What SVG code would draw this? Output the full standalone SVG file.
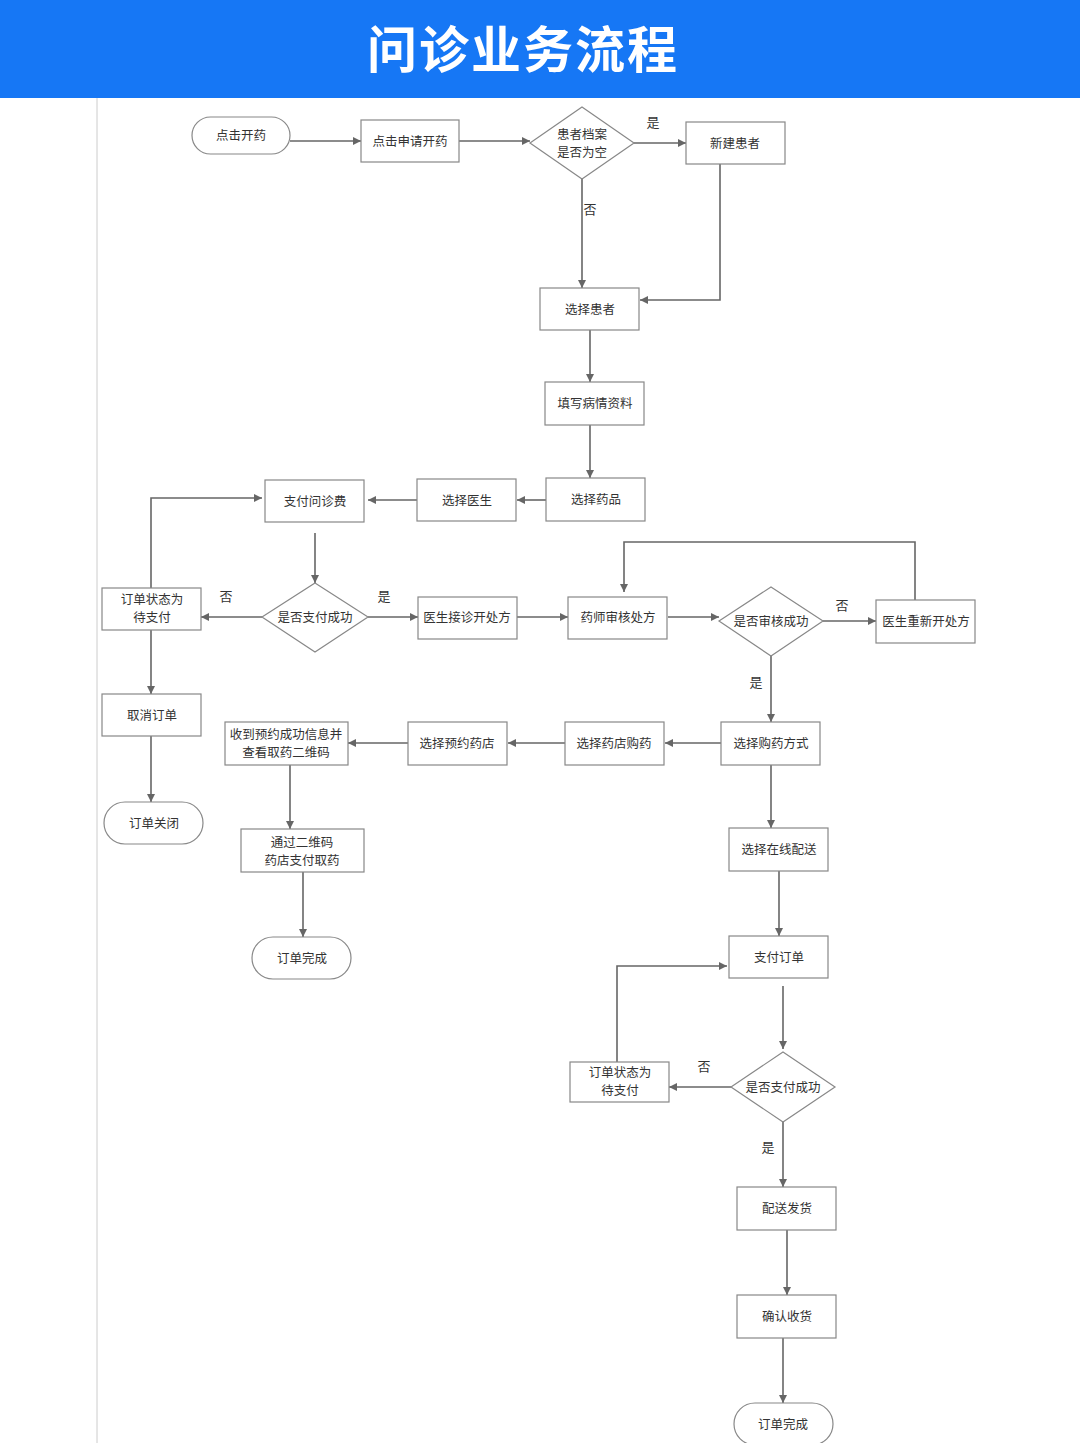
<svg xmlns="http://www.w3.org/2000/svg" width="1080" height="1443" viewBox="0 0 1080 1443">
<defs><marker id="a" viewBox="0 0 10 10" refX="10" refY="5" markerWidth="8" markerHeight="8" markerUnits="userSpaceOnUse" orient="auto"><path d="M0,0L10,5L0,10z" fill="#666"/></marker></defs>
<style>
.n{fill:#fff;stroke:#888;stroke-width:1.2}
text{font-family:"Noto Sans CJK SC",sans-serif;font-size:12.5px;fill:#333;text-anchor:middle}
.c path{fill:none;stroke:#666;stroke-width:1.6;marker-end:url(#a)}
.l{font-size:13px}
</style>
<rect width="1080" height="1443" fill="#fff"/>
<rect width="1080" height="98" fill="#1677f5"/>
<text x="523" y="68" style="font-size:50px;font-weight:bold;fill:#fff;letter-spacing:2px">问诊业务流程</text>
<line x1="97" y1="98" x2="97" y2="1443" stroke="#ccc"/>
<g class="c">
<path d="M290,141H361"/><path d="M459,141H530"/><path d="M634,143H686"/><path d="M582,179V288"/>
<path d="M720,164V300H640"/><path d="M590,330V382"/><path d="M590,425V478"/><path d="M546,500H517"/>
<path d="M417,500H368"/><path d="M315,533V583"/><path d="M262,617H201"/><path d="M368,617H418"/>
<path d="M151,588V498H262"/><path d="M151,630V694"/><path d="M151,736V802"/><path d="M517,617H568"/>
<path d="M668,617H719"/><path d="M823,621H876"/><path d="M915,600V542H624V592"/><path d="M771,656V722"/>
<path d="M721,743H665"/><path d="M565,743H508"/><path d="M408,743H348"/><path d="M290,765V829"/>
<path d="M303,872V937"/><path d="M771,765V828"/><path d="M779,871V936"/><path d="M783,986V1049"/>
<path d="M731,1087H669"/><path d="M617,1062V966H727"/><path d="M783,1122V1187"/><path d="M787,1230V1295"/><path d="M783,1338V1403"/>
</g>
<g class="l">
<text class="l" x="653" y="127">是</text><text class="l" x="590" y="214">否</text><text class="l" x="226" y="601">否</text>
<text class="l" x="384" y="601">是</text><text class="l" x="842" y="610">否</text><text class="l" x="756" y="687">是</text>
<text class="l" x="704" y="1071">否</text><text class="l" x="768" y="1152">是</text>
</g>
<g id="n1"><rect class="n" x="192" y="117" width="98" height="37" rx="18.5"/><text x="241" y="140">点击开药</text></g>
<g id="n2"><rect class="n" x="361" y="120" width="98" height="42"/><text x="410" y="146">点击申请开药</text></g>
<g id="n3"><path class="n" d="M582,107L634,143L582,179L530,143z"/><text x="582" y="139">患者档案</text><text x="582" y="157">是否为空</text></g>
<g id="n4"><rect class="n" x="686" y="122" width="99" height="42"/><text x="735" y="148">新建患者</text></g>
<g id="n5"><rect class="n" x="540" y="288" width="99" height="42"/><text x="590" y="314">选择患者</text></g>
<g id="n6"><rect class="n" x="545" y="382" width="99" height="43"/><text x="595" y="408">填写病情资料</text></g>
<g id="n7"><rect class="n" x="546" y="478" width="99" height="43"/><text x="596" y="504">选择药品</text></g>
<g id="n8"><rect class="n" x="417" y="479" width="99" height="42"/><text x="467" y="505">选择医生</text></g>
<g id="n9"><rect class="n" x="265" y="480" width="99" height="42"/><text x="315" y="506">支付问诊费</text></g>
<g id="n10"><path class="n" d="M315,583L368,617L315,652L262,617z"/><text x="315" y="622">是否支付成功</text></g>
<g id="n11"><rect class="n" x="102" y="588" width="99" height="42"/><text x="152" y="604">订单状态为</text><text x="152" y="622">待支付</text></g>
<g id="n12"><rect class="n" x="102" y="694" width="99" height="42"/><text x="152" y="720">取消订单</text></g>
<g id="n13"><rect class="n" x="104" y="802" width="99" height="42" rx="21"/><text x="154" y="828">订单关闭</text></g>
<g id="n14"><rect class="n" x="418" y="597" width="99" height="42"/><text x="467" y="622">医生接诊开处方</text></g>
<g id="n15"><rect class="n" x="568" y="597" width="99" height="42"/><text x="618" y="622">药师审核处方</text></g>
<g id="n16"><path class="n" d="M771,587L823,621L771,656L719,621z"/><text x="771" y="626">是否审核成功</text></g>
<g id="n17"><rect class="n" x="876" y="600" width="99" height="43"/><text x="926" y="626">医生重新开处方</text></g>
<g id="n18"><rect class="n" x="721" y="722" width="99" height="43"/><text x="771" y="748">选择购药方式</text></g>
<g id="n19"><rect class="n" x="565" y="722" width="99" height="43"/><text x="614" y="748">选择药店购药</text></g>
<g id="n20"><rect class="n" x="408" y="722" width="99" height="43"/><text x="457" y="748">选择预约药店</text></g>
<g id="n21"><rect class="n" x="225" y="722" width="123" height="43"/><text x="286" y="739">收到预约成功信息并</text><text x="286" y="757">查看取药二维码</text></g>
<g id="n22"><rect class="n" x="241" y="829" width="123" height="43"/><text x="302" y="847">通过二维码</text><text x="302" y="865">药店支付取药</text></g>
<g id="n23"><rect class="n" x="252" y="937" width="99" height="42" rx="21"/><text x="302" y="963">订单完成</text></g>
<g id="n24"><rect class="n" x="729" y="828" width="99" height="43"/><text x="779" y="854">选择在线配送</text></g>
<g id="n25"><rect class="n" x="729" y="936" width="99" height="42"/><text x="779" y="962">支付订单</text></g>
<g id="n26"><path class="n" d="M783,1052L835,1087L783,1122L731,1087z"/><text x="783" y="1092">是否支付成功</text></g>
<g id="n27"><rect class="n" x="570" y="1062" width="99" height="40"/><text x="620" y="1077">订单状态为</text><text x="620" y="1095">待支付</text></g>
<g id="n28"><rect class="n" x="737" y="1187" width="99" height="43"/><text x="787" y="1213">配送发货</text></g>
<g id="n29"><rect class="n" x="737" y="1295" width="99" height="43"/><text x="787" y="1321">确认收货</text></g>
<g id="n30"><rect class="n" x="734" y="1403" width="99" height="42" rx="21"/><text x="783" y="1429">订单完成</text></g>
</svg>
